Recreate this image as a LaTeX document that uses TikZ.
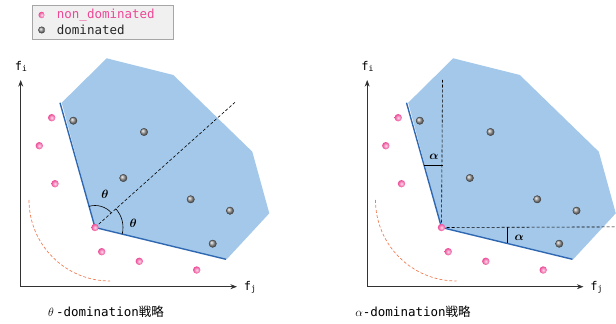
\documentclass[tikz,border=0pt]{standalone}
\usepackage{amsmath,bm}
\usepackage{fontspec}
\setmonofont{DejaVu Sans Mono}
\newfontfamily\jpfont{Noto Sans CJK JP}
\usetikzlibrary{arrows.meta,calc}
\definecolor{regionblue}{RGB}{163,200,234}
\definecolor{edgeblue}{RGB}{46,104,178}
\definecolor{ndpink}{RGB}{236,72,150}
\definecolor{arcorange}{RGB}{240,125,85}
\definecolor{legendgray}{RGB}{240,240,240}

\begin{document}
\begin{tikzpicture}[x=1pt,y=1pt,>=Stealth,font=\ttfamily,
  ndom/.style={circle,inner sep=0pt,minimum size=7.4pt,shading=radial,inner color=ndpink!20!white,outer color=ndpink},
  dom/.style={circle,inner sep=0pt,minimum size=7.4pt,shading=ball,ball color=gray!75,draw=black!75,line width=0.4pt},
  axis/.style={->,draw=black!80,line width=0.8pt},
  front/.style={edgeblue,line width=1.4pt},
  guide/.style={densely dashed,line width=0.6pt},
  flabel/.style={font=\fontsize{12}{12}\selectfont\ttfamily,inner sep=0pt},
  angl/.style={font=\fontsize{13}{13}\selectfont,inner sep=0pt}]
\useasboundingbox (0,0) rectangle (616,324);

% both panels share the region, the points and the axes
\foreach \dx/\p in {0/a,346.5/b} {
\begin{scope}[xshift=\dx]
  \fill[regionblue] (61.7,221.3) -- (106.7,265.7) -- (173.3,249) -- (252.3,172.3) -- (269.3,110.7) -- (226.7,64.7) -- (95,96.7) -- cycle;
  \coordinate (top-\p) at (60,221.3);
  \coordinate (k-\p) at (95,96.5);
  \coordinate (bot-\p) at (226,64.7);
  \coordinate (o-\p) at (20.7,37.3);
  \coordinate (yend-\p) at (20.7,244);
  \coordinate (xend-\p) at (237,37.3);
  \draw[arcorange,densely dashed,line width=0.7pt] (29,124) arc[start angle=180,end angle=270,radius=81];
  \draw[axis] (o-\p) -- (yend-\p);
  \draw[axis] (o-\p) -- (xend-\p);
  \node[flabel] (fi-\p) at (21,258) {f\raisebox{-1pt}{\fontsize{8}{8}\selectfont i}};
  \node[flabel] (fj-\p) at (250,37) {f\raisebox{-1pt}{\fontsize{8}{8}\selectfont j}};
  \draw[front] (top-\p) -- (k-\p) -- (bot-\p);
  \foreach \x/\y [count=\i] in {51.7/206.3,39.3/178.3,55/140.3,101.7/72.3,139.3/62.7,196.7/54}
    \node[ndom] (nd\i-\p) at (\x,\y) {};
  \foreach \x/\y [count=\i] in {73.3/203.3,144/192,123.3/146,190.7/124.7,230/113.3,212.7/80.3}
    \node[dom] (d\i-\p) at (\x,\y) {};
\end{scope}
}

% theta-domination
\coordinate (diag-a) at (235,221.7);
\draw[guide] (k-a) -- (diag-a);
\draw[line width=0.6pt] (k-a) ++(105.7:22) arc[start angle=105.7,end angle=41.8,radius=22];
\draw[line width=0.6pt] (k-a) ++(41.8:28) arc[start angle=41.8,end angle=-13.6,radius=28];
\node[angl] (th1) at (105,130) {$\bm{\theta}$};
\node[angl] (th2) at (133.3,100.7) {$\bm{\theta}$};
\node[ndom] (c-a) at (k-a) {};

% alpha-domination
\coordinate (vtop-b) at ($(k-b)+(1,147.5)$);
\coordinate (hend-b) at ($(k-b)+(175,0.6)$);
\draw[guide] (k-b) -- (vtop-b);
\draw[guide] (k-b) -- (hend-b);
\coordinate (m1-b) at ($(k-b)!0.5!(top-b)$);
\coordinate (m2-b) at ($(k-b)!0.5!(bot-b)$);
\draw[line width=0.6pt] (m1-b) -- (m1-b -| vtop-b);
\draw[line width=0.6pt] (m2-b) -- (m2-b |- k-b);
\node[angl] (al1) at (434,166.7) {$\bm{\alpha}$};
\node[angl] (al2) at (519.3,85.7) {$\bm{\alpha}$};
\node[ndom] (c-b) at (k-b) {};

% legend
\node[draw=gray!70,fill=legendgray,minimum width=141.6pt,minimum height=34.3pt,inner sep=0pt] (legend) at (102.5,301.8) {};
\node[ndom,minimum size=6.5pt] (lnd) at (41.7,309) {};
\node[dom,minimum size=6.5pt] (ld) at (41.7,294) {};
\node[anchor=west,inner sep=0pt,text=ndpink,font=\fontsize{12.5}{12.5}\selectfont\ttfamily] (lndt) at (56.7,309) {non\_dominated};
\node[anchor=west,inner sep=0pt,text=black!85,font=\fontsize{12.5}{12.5}\selectfont\ttfamily] (ldt) at (56.7,294) {dominated};

% captions
\node[font=\fontsize{12.5}{12.5}\selectfont\ttfamily] (cap-a) at (106,12.3) {$\theta$\,-domination{\jpfont 戦略}};
\node[font=\fontsize{12.5}{12.5}\selectfont\ttfamily] (cap-b) at (413,12.3) {$\alpha$-domination{\jpfont 戦略}};
\end{tikzpicture}
\end{document}
